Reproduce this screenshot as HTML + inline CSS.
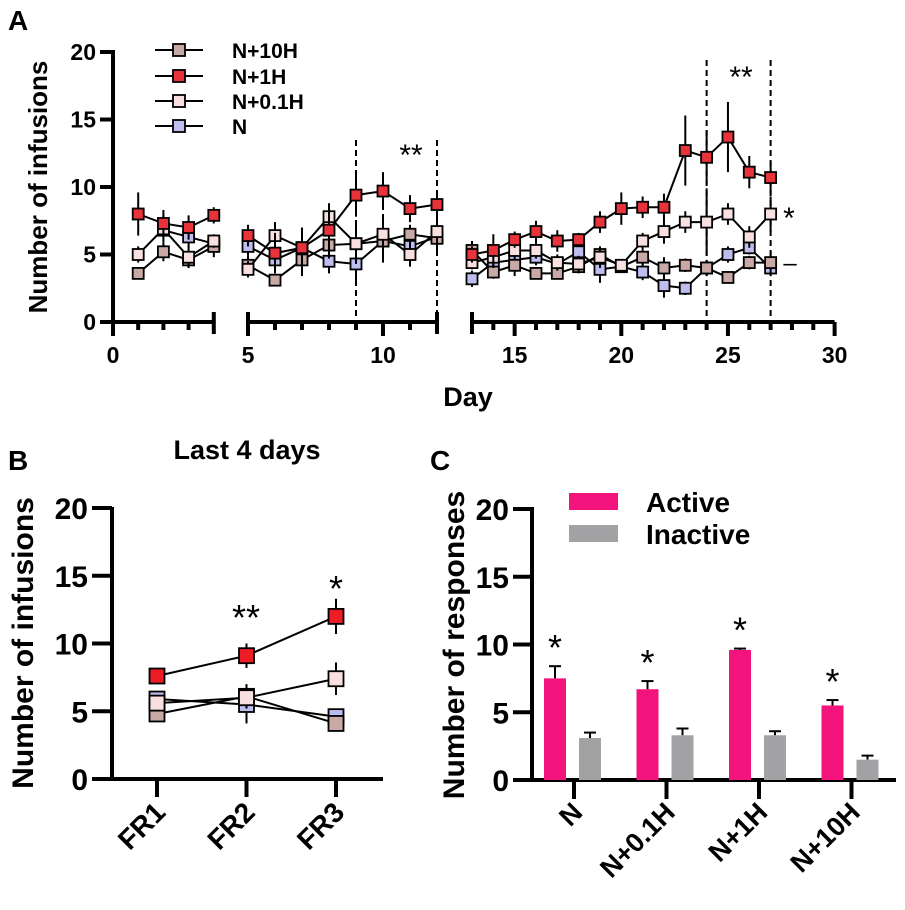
<!DOCTYPE html>
<html><head><meta charset="utf-8"><style>
body{margin:0;background:#fff}
svg{display:block;font-family:"Liberation Sans",Arial,sans-serif;font-weight:bold}
</style></head><body>
<svg id="fig" width="905" height="910" viewBox="0 0 905 910">
<g id="A"></g>
<g id="B"></g>
<g id="C"></g>
</svg>
<script>
// ---- Panel A data ----
const daysA = [1,2,3,4,5,6,7,8,9,10,11,12,13,14,15,16,17,18,19,20,21,22,23,24,25,26,27];
const n1H   = [8.0,7.3,7.0,7.9, 6.4,5.1,5.5,6.8,9.4,9.7,8.4,8.7, 5.0,5.3,6.1,6.7,6.0,6.1,7.4,8.4,8.5,8.5,12.7,12.2,13.7,11.1,10.7];
const n1HErr= [1.6,1.0,0.9,0.6, 0.8,1.5,1.5,1.5,1.6,1.4,1.0,1.0, 0.6,1.2,0.6,0.8,0.8,0.5,0.8,1.2,0.8,1.0,2.6,2.0,2.6,1.2,1.2];
const n01H  = [5.0,6.9,4.8,6.0, 3.9,6.4,5.5,7.8,5.8,6.5,5.0,6.7, 4.4,4.8,5.3,5.3,4.4,4.3,4.8,4.2,6.0,6.7,7.4,7.4,8.0,6.3,8.0];
const n01HErr=[0.6,1.0,0.8,0.5, 0.6,1.0,1.0,1.0,1.5,1.5,0.9,1.2, 0.5,0.8,0.5,0.6,0.6,0.6,0.8,0.4,0.6,0.9,0.8,2.5,0.8,0.8,1.3];
const n10H  = [3.6,5.2,4.6,5.6, 4.2,3.1,4.6,5.7,5.8,6.0,6.5,6.2, 5.3,3.7,4.2,3.6,3.6,4.1,5.0,4.1,4.8,4.0,4.2,4.0,3.3,4.4,4.4];
const n10HErr=[0.3,0.7,0.6,0.8, 0.7,0.4,1.2,1.0,1.2,1.6,0.7,0.9, 0.7,0.5,0.8,0.3,0.4,0.5,0.6,0.4,0.6,0.8,0.5,0.5,0.4,0.5,0.8];
const nCtl  = [null,6.8,6.3,5.8, 5.6,4.6,5.5,4.5,4.3,6.0,5.6,6.3, 3.2,4.4,4.6,4.8,4.3,5.2,3.9,4.1,3.7,2.7,2.5,4.0,5.0,5.5,4.0];
const nCtlErr=[0,0.6,0.8,0.6, 0.7,0.6,0.7,0.9,1.2,0.8,0.6,0.9, 0.6,0.5,0.6,0.6,0.5,0.6,1.0,0.4,0.6,0.9,0.5,0.6,0.6,0.5,0.6];
const yTicksA = [0,5,10,15,20];
// ---- Panel B data ----
const catsB = ["FR1","FR2","FR3"];
const bRed = [7.6,9.1,12.0], bRedErr=[0.4,0.9,1.3];
const bLight = [5.6,6.0,7.4], bLightErr=[0.5,0.7,1.2];
const bMauve = [4.8,6.1,4.1], bMauveErr=[0.4,0.9,0.4];
const bBlue = [5.9,5.5,4.6], bBlueErr=[0.4,1.4,0.4];
// ---- Panel C data ----
const catsC = ["N","N+0.1H","N+1H","N+10H"];
const active = [7.5,6.7,9.6,5.5], activeErr=[0.9,0.6,0.1,0.4];
const inactive = [3.1,3.3,3.3,1.5], inactiveErr=[0.4,0.5,0.3,0.3];

const NS="http://www.w3.org/2000/svg";
function mk(parent,tag,attrs,text){const e=document.createElementNS(NS,tag);for(const k in attrs)e.setAttribute(k,attrs[k]);if(text!==undefined)e.textContent=text;parent.appendChild(e);return e;}
const COL={red:"#e8333b",light:"#f8e0e0",mauve:"#c9a9a6",blue:"#bdbdf0"};

// ===== Panel A =====
const A=document.getElementById('A');
const yA=v=>322-v*13.5;
function xA(d){ if(d<=4.5) return 113+d*25.2; if(d<=12.5) return 248+(d-5)*27; return 472+(d-13)*21.33; }
let t=mk(A,'text',{x:8,y:30,'font-size':28});t.textContent='A';

let ax=mk(A,'line',{x1:113,y1:50,x2:113,y2:324,stroke:'#000','stroke-width':4});

yTicksA.forEach(v=>{
  mk(A,'line',{x1:100,y1:yA(v),x2:113,y2:yA(v),stroke:'#000','stroke-width':4});
  const l=mk(A,'text',{x:96,y:yA(v)+8,'text-anchor':'end','font-size':23},v);
  
});
t=mk(A,'text',{transform:'translate(47,187) rotate(-90)','text-anchor':'middle','font-size':26},'Number of infusions');

[[0,4,[1,2,3],[0]],[5,12,[6,7,8,9,11],[5,10]],[13,30,[14,16,17,18,19,21,22,23,24,26,27,28,29],[15,20,25,30]]].forEach((s,i)=>{
  const g=mk(A,'g',{});
  
  mk(g,'line',{x1:xA(s[0])-(i==0?2:0),y1:322,x2:xA(s[1]),y2:322,stroke:'#000','stroke-width':4});
  s[2].forEach(d=>mk(g,'line',{x1:xA(d),y1:322,x2:xA(d),y2:330,stroke:'#000','stroke-width':4}));
  s[3].forEach(d=>{mk(g,'line',{x1:xA(d),y1:322,x2:xA(d),y2:336,stroke:'#000','stroke-width':4});
    const l=mk(g,'text',{x:xA(d),y:363,'text-anchor':'middle','font-size':23},d);
    });
  if(i>0) mk(g,'line',{x1:xA(s[0]),y1:312,x2:xA(s[0]),y2:334,stroke:'#000','stroke-width':4});
  if(i<2) mk(g,'line',{x1:xA(s[1]),y1:312,x2:xA(s[1]),y2:334,stroke:'#000','stroke-width':4});
});
t=mk(A,'text',{x:468,y:406,'text-anchor':'middle','font-size':27},'Day');

[[9,140],[12,140],[24,60],[27,60]].forEach(p=>{
  const l=mk(A,'line',{x1:xA(p[0]),y1:p[1],x2:xA(p[0]),y2:322,stroke:'#000','stroke-width':2,'stroke-dasharray':'6,4'});
  
});
function series(parent,xs,vals,errs,col,name,segFn,size){
  const g=mk(parent,'g',{});
  
  segFn().forEach(idx=>{
    const pts=idx.filter(i=>vals[i]!=null).map(i=>xs(i)+','+parent._y(vals[i])).join(' ');
    mk(g,'polyline',{points:pts,fill:'none',stroke:'#000','stroke-width':2});
  });
  vals.forEach((v,i)=>{ if(v==null)return;
    mk(g,'line',{x1:xs(i),y1:parent._y(v-errs[i]),x2:xs(i),y2:parent._y(v+errs[i]),stroke:'#000','stroke-width':2});
  });
  vals.forEach((v,i)=>{ if(v==null)return;
    const r=mk(g,'rect',{x:xs(i)-size/2,y:parent._y(v)-size/2,width:size,height:size,fill:col,stroke:'#000','stroke-width':1.8});
    
  });
}
A._y=yA;
const segA=()=>[[0,1,2,3],[4,5,6,7,8,9,10,11],[12,13,14,15,16,17,18,19,20,21,22,23,24,25,26]];
const xiA=i=>xA(daysA[i]);
series(A,xiA,nCtl,nCtlErr,COL.blue,'series-n',segA,11);
series(A,xiA,n10H,n10HErr,COL.mauve,'series-n-10h',segA,11);
series(A,xiA,n01H,n01HErr,COL.light,'series-n-0-1h',segA,11);
series(A,xiA,n1H,n1HErr,COL.red,'series-n-1h',segA,11);
[['**',411,165,30],['**',741,87,30],['*',789,228,30],['–',790,271,24]].forEach(s=>{
  const l=mk(A,'text',{x:s[1],y:s[2],'text-anchor':'middle','font-size':s[3],'font-weight':'normal'},s[0]);
  
});
[['N+10H',COL.mauve,50],['N+1H',COL.red,76],['N+0.1H',COL.light,101],['N',COL.blue,126]].forEach(e=>{
  const g=mk(A,'g',{});
  
  mk(g,'line',{x1:155,y1:e[2],x2:203,y2:e[2],stroke:'#000','stroke-width':2});
  mk(g,'rect',{x:173,y:e[2]-6,width:12,height:12,fill:e[1],stroke:'#000','stroke-width':1.8});
  mk(g,'text',{x:232,y:e[2]+8,'font-size':21},e[0]);
});

// ===== Panel B =====
const B=document.getElementById('B');
const yB=v=>779-v*13.55; B._y=yB;
const xB=i=>157+i*89.5;
t=mk(B,'text',{x:8,y:470,'font-size':28},'B');
t=mk(B,'text',{x:247,y:459,'text-anchor':'middle','font-size':27},'Last 4 days');
ax=mk(B,'line',{x1:112,y1:507,x2:112,y2:781,stroke:'#000','stroke-width':4});
ax=mk(B,'line',{x1:92,y1:779,x2:383,y2:779,stroke:'#000','stroke-width':4});
yTicksA.forEach(v=>{mk(B,'line',{x1:92,y1:yB(v),x2:112,y2:yB(v),stroke:'#000','stroke-width':4});
  const l=mk(B,'text',{x:88,y:yB(v)+11,'text-anchor':'end','font-size':30},v);});
catsB.forEach((c,i)=>{mk(B,'line',{x1:xB(i),y1:779,x2:xB(i),y2:797,stroke:'#000','stroke-width':4});
  const l=mk(B,'text',{transform:`translate(${xB(i)+10},${814}) rotate(-45)`,'text-anchor':'end','font-size':28},c);});
t=mk(B,'text',{transform:'translate(33,643) rotate(-90)','text-anchor':'middle','font-size':30},'Number of infusions');
const segB=()=>[[0,1,2]];
series(B,xB,bBlue,bBlueErr,COL.blue,'series-b-n',segB,15);
series(B,xB,bMauve,bMauveErr,COL.mauve,'series-b-n-10h',segB,15);
series(B,xB,bLight,bLightErr,COL.light,'series-b-n-0-1h',segB,15);
series(B,xB,bRed,bRedErr,'#ee1c24','series-b-n-1h',segB,15);
[['**',246,630],['*',336,601]].forEach(s=>{const l=mk(B,'text',{x:s[1],y:s[2],'text-anchor':'middle','font-size':36,'font-weight':'normal'},s[0]);});

// ===== Panel C =====
const C=document.getElementById('C');
const yC=v=>780-v*13.55;
const xC=i=>574+i*92.5;
t=mk(C,'text',{x:430,y:470,'font-size':28},'C');
ax=mk(C,'line',{x1:532,y1:507,x2:532,y2:782,stroke:'#000','stroke-width':4});
ax=mk(C,'line',{x1:513,y1:780,x2:896,y2:780,stroke:'#000','stroke-width':4});
yTicksA.forEach(v=>{mk(C,'line',{x1:513,y1:yC(v),x2:532,y2:yC(v),stroke:'#000','stroke-width':4});
  const l=mk(C,'text',{x:509,y:yC(v)+11,'text-anchor':'end','font-size':30},v);});
catsC.forEach((c,i)=>{mk(C,'line',{x1:xC(i),y1:780,x2:xC(i),y2:799,stroke:'#000','stroke-width':4});
  const l=mk(C,'text',{transform:`translate(${xC(i)+10},${814}) rotate(-45)`,'text-anchor':'end','font-size':27},c);});
t=mk(C,'text',{transform:'translate(464,645) rotate(-90)','text-anchor':'middle','font-size':30},'Number of responses');
const bw=22;
catsC.forEach((c,i)=>{
  const xa=xC(i)-19, xi=xC(i)+16;
  mk(C,'line',{x1:xa,y1:yC(active[i]),x2:xa,y2:yC(active[i]+activeErr[i]),stroke:'#000','stroke-width':2});
  mk(C,'line',{x1:xa-6,y1:yC(active[i]+activeErr[i]),x2:xa+6,y2:yC(active[i]+activeErr[i]),stroke:'#000','stroke-width':2});
  let r=mk(C,'rect',{x:xa-bw/2,y:yC(active[i]),width:bw,height:yC(0)-yC(active[i]),fill:'#f2137c'});
  
  mk(C,'line',{x1:xi,y1:yC(inactive[i]),x2:xi,y2:yC(inactive[i]+inactiveErr[i]),stroke:'#000','stroke-width':2});
  mk(C,'line',{x1:xi-6,y1:yC(inactive[i]+inactiveErr[i]),x2:xi+6,y2:yC(inactive[i]+inactiveErr[i]),stroke:'#000','stroke-width':2});
  r=mk(C,'rect',{x:xi-bw/2,y:yC(inactive[i]),width:bw,height:yC(0)-yC(inactive[i]),fill:'#a2a2a5'});
  
  const s=mk(C,'text',{x:xa,y:yC(active[i]+activeErr[i])-6,'text-anchor':'middle','font-size':36,'font-weight':'normal'},'*');
  
});
[['Active','#f2137c',493],['Inactive','#a2a2a5',525]].forEach(e=>{
  const g=mk(C,'g',{});
  mk(g,'rect',{x:569,y:e[2],width:49,height:17,fill:e[1]});
  mk(g,'text',{x:646,y:e[2]+19,'font-size':28},e[0]);
});
</script>
</body></html>
